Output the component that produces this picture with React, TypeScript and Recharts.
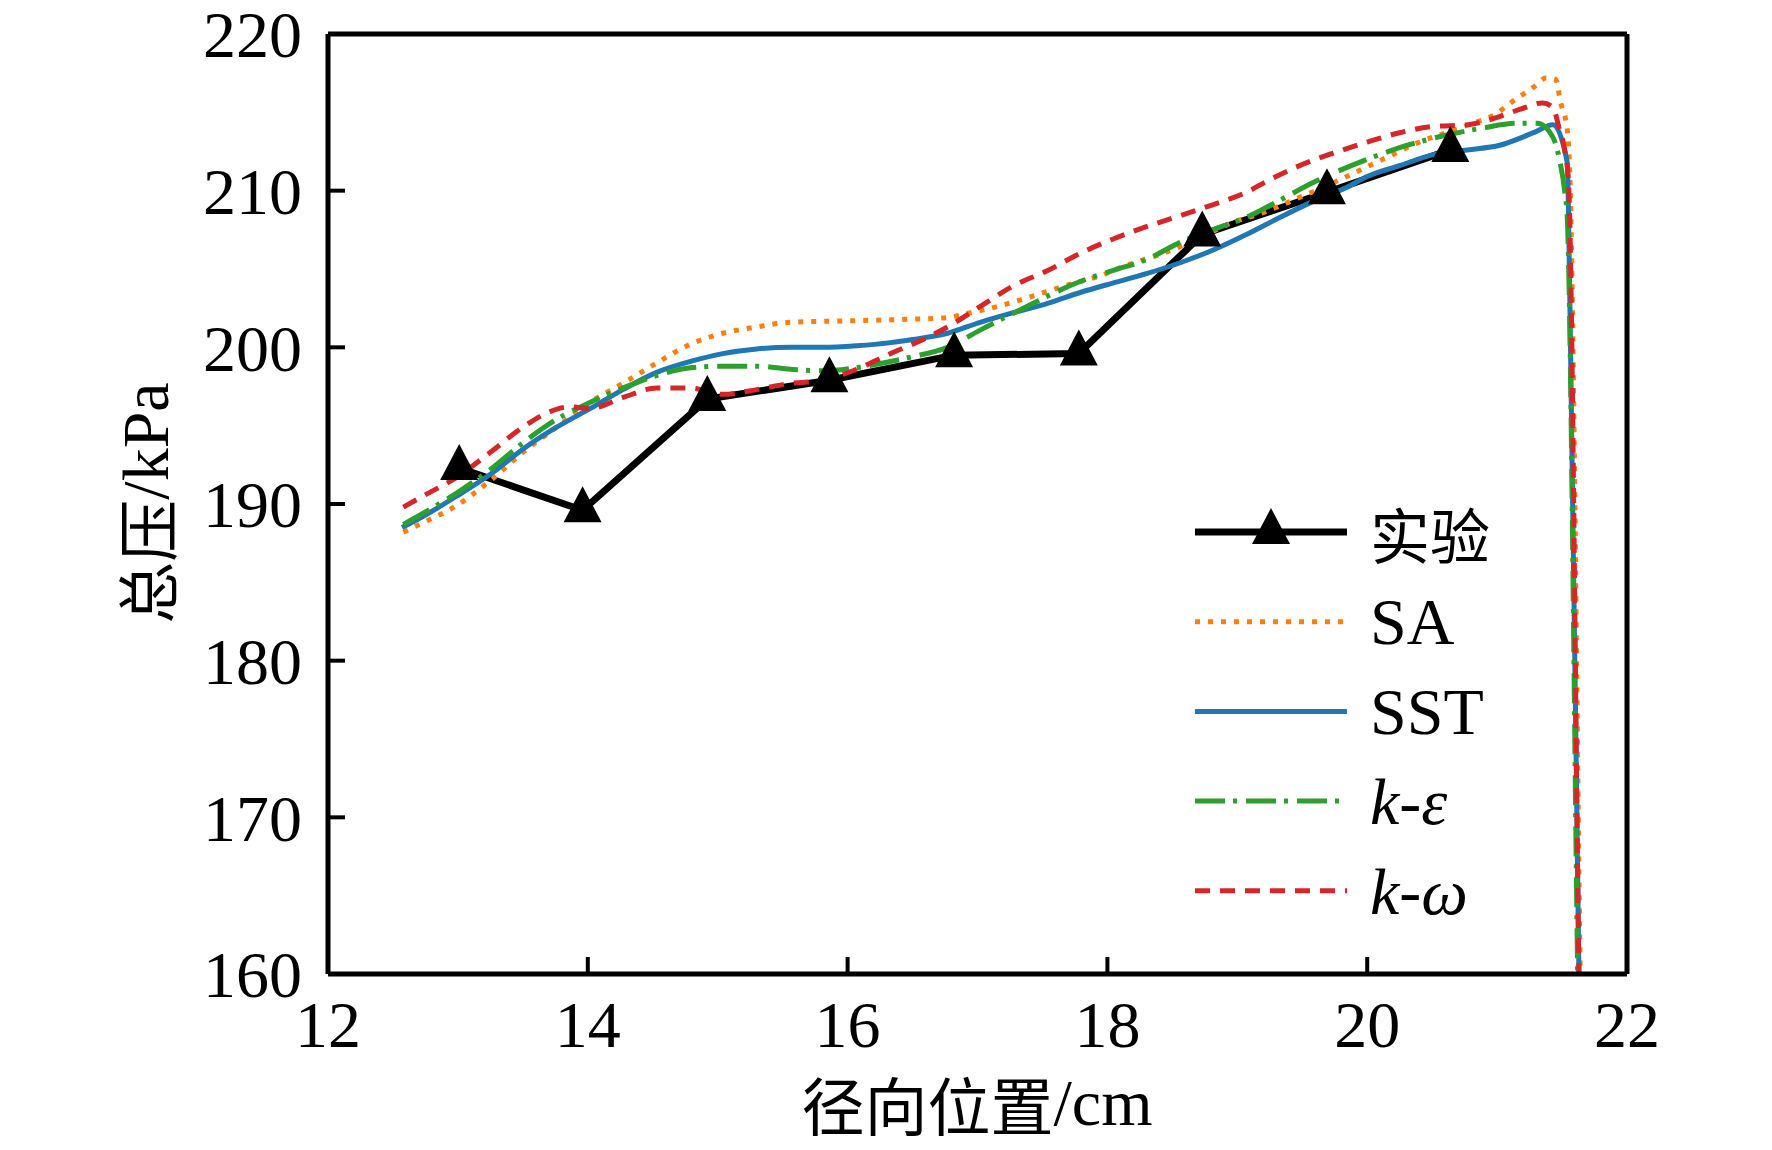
import { LineChart, Line, XAxis, YAxis, ReferenceLine } from "recharts"

const xTicks = [12, 14, 16, 18, 20, 22]
const yTicks = [160, 170, 180, 190, 200, 210, 220]

// 实验 (measured points)
const expPoints = [
  { x: 13.01, y: 192.3 },
  { x: 13.96, y: 189.6 },
  { x: 14.92, y: 196.7 },
  { x: 15.86, y: 197.9 },
  { x: 16.82, y: 199.5 },
  { x: 17.78, y: 199.6 },
  { x: 18.73, y: 207.2 },
  { x: 19.69, y: 209.9 },
  { x: 20.64, y: 212.6 },
]

const saPoints = [
  { x: 12.58, y: 188.2 }, { x: 12.73, y: 188.8 }, { x: 12.99, y: 189.9 },
  { x: 13.25, y: 191.5 }, { x: 13.5, y: 193.3 }, { x: 13.76, y: 194.9 },
  { x: 14.02, y: 196.5 }, { x: 14.27, y: 197.7 }, { x: 14.53, y: 199.0 },
  { x: 14.79, y: 200.2 }, { x: 15.04, y: 200.9 }, { x: 15.3, y: 201.3 },
  { x: 15.56, y: 201.6 }, { x: 16.05, y: 201.7 }, { x: 16.5, y: 201.8 },
  { x: 16.77, y: 201.9 }, { x: 16.94, y: 202.2 }, { x: 17.15, y: 202.6 },
  { x: 17.4, y: 203.2 }, { x: 17.66, y: 203.9 }, { x: 17.92, y: 204.5 },
  { x: 18.17, y: 205.3 }, { x: 18.43, y: 206.0 }, { x: 18.69, y: 206.9 },
  { x: 18.94, y: 207.9 }, { x: 19.2, y: 208.6 }, { x: 19.46, y: 209.5 },
  { x: 19.71, y: 210.4 }, { x: 20.12, y: 212.0 }, { x: 20.43, y: 213.2 },
  { x: 20.61, y: 213.7 }, { x: 20.81, y: 214.3 }, { x: 20.97, y: 214.8 },
  { x: 21.12, y: 215.7 }, { x: 21.28, y: 216.6 }, { x: 21.38, y: 217.2 },
  { x: 21.45, y: 217.1 }, { x: 21.49, y: 215.6 }, { x: 21.54, y: 213.9 },
  { x: 21.56, y: 211.0 }, { x: 21.64, y: 160.0 }, { x: 21.645, y: 157.0 },
]

const sstPoints = [
  { x: 12.57, y: 188.5 }, { x: 12.73, y: 189.2 }, { x: 12.99, y: 190.5 },
  { x: 13.25, y: 191.9 }, { x: 13.5, y: 193.5 }, { x: 13.76, y: 194.9 },
  { x: 14.02, y: 196.1 }, { x: 14.27, y: 197.3 }, { x: 14.53, y: 198.4 },
  { x: 14.79, y: 199.1 }, { x: 15.04, y: 199.6 }, { x: 15.3, y: 199.9 },
  { x: 15.56, y: 200.0 }, { x: 15.81, y: 200.0 }, { x: 16.07, y: 200.1 },
  { x: 16.33, y: 200.3 }, { x: 16.5, y: 200.5 }, { x: 16.77, y: 200.9 },
  { x: 17.02, y: 201.6 }, { x: 17.27, y: 202.2 }, { x: 17.54, y: 202.8 },
  { x: 17.79, y: 203.5 }, { x: 18.04, y: 204.1 }, { x: 18.3, y: 204.7 },
  { x: 18.56, y: 205.4 }, { x: 18.81, y: 206.2 }, { x: 19.07, y: 207.2 },
  { x: 19.33, y: 208.3 }, { x: 19.58, y: 209.3 }, { x: 19.84, y: 210.2 },
  { x: 20.0, y: 210.9 }, { x: 20.25, y: 211.6 }, { x: 20.51, y: 212.3 },
  { x: 20.77, y: 212.6 }, { x: 21.02, y: 212.9 }, { x: 21.28, y: 213.7 },
  { x: 21.43, y: 214.2 }, { x: 21.54, y: 211.8 }, { x: 21.56, y: 203.0 },
  { x: 21.63, y: 160.0 }, { x: 21.635, y: 157.0 },
]

const kePoints = [
  { x: 12.58, y: 188.7 }, { x: 12.73, y: 189.4 }, { x: 12.99, y: 190.7 },
  { x: 13.25, y: 192.2 }, { x: 13.5, y: 193.9 }, { x: 13.76, y: 195.4 },
  { x: 14.02, y: 196.5 }, { x: 14.27, y: 197.4 }, { x: 14.53, y: 198.2 },
  { x: 14.79, y: 198.7 }, { x: 15.04, y: 198.8 }, { x: 15.3, y: 198.8 },
  { x: 15.56, y: 198.6 }, { x: 15.81, y: 198.5 }, { x: 16.07, y: 198.7 },
  { x: 16.33, y: 199.1 }, { x: 16.5, y: 199.4 }, { x: 16.77, y: 200.0 },
  { x: 17.02, y: 201.1 }, { x: 17.33, y: 202.4 }, { x: 17.79, y: 204.2 },
  { x: 18.04, y: 204.9 }, { x: 18.3, y: 205.6 }, { x: 18.56, y: 206.7 },
  { x: 18.81, y: 207.5 }, { x: 19.07, y: 208.3 }, { x: 19.33, y: 209.4 },
  { x: 19.58, y: 210.5 }, { x: 20.0, y: 212.0 }, { x: 20.31, y: 212.9 },
  { x: 20.64, y: 213.6 }, { x: 20.89, y: 214.0 }, { x: 21.15, y: 214.3 },
  { x: 21.31, y: 214.3 }, { x: 21.43, y: 213.4 }, { x: 21.48, y: 212.0 },
  { x: 21.52, y: 210.0 }, { x: 21.54, y: 208.3 }, { x: 21.62, y: 160.0 },
  { x: 21.625, y: 157.0 },
]

const kwPoints = [
  { x: 12.58, y: 189.8 }, { x: 12.73, y: 190.5 }, { x: 12.99, y: 191.7 },
  { x: 13.25, y: 193.3 }, { x: 13.5, y: 194.9 }, { x: 13.71, y: 195.9 },
  { x: 13.86, y: 196.2 }, { x: 14.02, y: 196.1 }, { x: 14.27, y: 196.8 },
  { x: 14.53, y: 197.4 }, { x: 14.79, y: 197.4 }, { x: 14.92, y: 197.2 },
  { x: 15.04, y: 197.0 }, { x: 15.3, y: 197.3 }, { x: 15.56, y: 197.7 },
  { x: 15.81, y: 197.9 }, { x: 16.07, y: 198.6 }, { x: 16.33, y: 199.6 },
  { x: 16.5, y: 200.2 }, { x: 16.77, y: 201.3 }, { x: 17.02, y: 202.6 },
  { x: 17.27, y: 203.9 }, { x: 17.54, y: 204.9 }, { x: 17.79, y: 206.0 },
  { x: 18.04, y: 206.9 }, { x: 18.3, y: 207.7 }, { x: 18.56, y: 208.4 },
  { x: 18.81, y: 209.1 }, { x: 19.07, y: 209.9 }, { x: 19.25, y: 210.7 },
  { x: 19.48, y: 211.6 }, { x: 19.74, y: 212.4 }, { x: 20.0, y: 213.1 },
  { x: 20.25, y: 213.7 }, { x: 20.51, y: 214.1 }, { x: 20.77, y: 214.2 },
  { x: 20.97, y: 214.6 }, { x: 21.18, y: 215.2 }, { x: 21.35, y: 215.6 },
  { x: 21.43, y: 215.3 }, { x: 21.48, y: 213.9 }, { x: 21.52, y: 212.6 },
  { x: 21.55, y: 210.5 }, { x: 21.63, y: 160.0 }, { x: 21.635, y: 157.0 },
]

const serif = "'Liberation Serif', 'Times New Roman', serif"
const cjk = "'Noto Sans CJK SC', 'Noto Sans CJK JP', sans-serif"

const colors = {
  exp: "#000000",
  sa: "#ff7f0e",
  sst: "#1f77b4",
  ke: "#2ca02c",
  kw: "#d62728",
}

const dashes = {
  sa: "5 8",
  ke: "30 8 4 9",
  kw: "15 10",
}

const W = 1756
const H = 1134

function Triangle({ cx, cy }: { cx?: number; cy?: number }) {
  if (cx == null || cy == null) return null
  return (
    <polygon
      points={`${cx},${cy - 24} ${cx - 19},${cy + 12} ${cx + 19},${cy + 12}`}
      fill="#000"
    />
  )
}

function LegendBox() {
  const rows = [
    { key: "exp", color: colors.exp, width: 7, dash: undefined as string | undefined, marker: true },
    { key: "sa", color: colors.sa, width: 5, dash: dashes.sa, marker: false },
    { key: "sst", color: colors.sst, width: 5, dash: undefined, marker: false },
    { key: "ke", color: colors.ke, width: 5, dash: dashes.ke, marker: false },
    { key: "kw", color: colors.kw, width: 5, dash: dashes.kw, marker: false },
  ]
  const labels: Record<string, React.ReactNode> = {
    exp: <tspan fontFamily={cjk} fontSize={60}>实验</tspan>,
    sa: "SA",
    sst: "SST",
    ke: (
      <>
        <tspan fontStyle="italic">k</tspan>-<tspan fontStyle="italic">ε</tspan>
      </>
    ),
    kw: (
      <>
        <tspan fontStyle="italic">k</tspan>-<tspan fontStyle="italic">ω</tspan>
      </>
    ),
  }
  const x0 = 1187
  const x1 = 1339
  const top = 524
  const step = 89.7
  return (
    <svg
      width={W}
      height={H + 8}
      style={{ position: "absolute", left: 0, top: 0, pointerEvents: "none", overflow: "visible" }}
    >
      {rows.map((r, i) => {
        const y = top + i * step
        return (
          <g key={r.key}>
            <line x1={x0} x2={x1} y1={y} y2={y} stroke={r.color} strokeWidth={r.width} strokeDasharray={r.dash} />
            {r.marker && <Triangle cx={(x0 + x1) / 2} cy={y} />}
            <text x={1362} y={y} dominantBaseline="central" fontFamily={serif} fontSize={66} fill="#000">
              {labels[r.key]}
            </text>
          </g>
        )
      })}
      <text
        x={137}
        y={495}
        transform="rotate(-90 137 495)"
        textAnchor="middle"
        dominantBaseline="central"
        fontFamily={serif}
        fontSize={66}
        fill="#000"
      >
        <tspan fontFamily={cjk} fontSize={62}>总压</tspan>/kPa
      </text>
      <text
        x={969}
        y={1094}
        textAnchor="middle"
        dominantBaseline="central"
        fontFamily={serif}
        fontSize={66}
        fill="#000"
      >
        <tspan fontFamily={cjk} fontSize={63}>径向位置</tspan>/cm
      </text>
    </svg>
  )
}

export default function App() {
  const tickStyle = { fontSize: 66, fontFamily: serif, fill: "#000" }
  return (
    <div style={{ position: "relative", width: W, height: H, background: "#fff" }}>
      <LineChart
        width={W}
        height={H}
        margin={{ top: 26, right: 137, left: 0, bottom: 48 }}
        style={{ overflow: "visible" }}
      >
        <XAxis
          type="number"
          dataKey="x"
          domain={[12, 22]}
          ticks={xTicks}
          allowDataOverflow
          interval={0}
          height={120}
          tick={tickStyle}
          tickSize={-17}
          tickMargin={43}
          axisLine={{ stroke: "#000", strokeWidth: 5 }}
          tickLine={{ stroke: "#000", strokeWidth: 4 }}
        />
        <YAxis
          type="number"
          dataKey="y"
          domain={[160, 220]}
          ticks={yTicks}
          allowDataOverflow
          interval={0}
          width={320}
          tick={tickStyle}
          tickSize={-17}
          tickMargin={43}
          axisLine={{ stroke: "#000", strokeWidth: 5 }}
          tickLine={{ stroke: "#000", strokeWidth: 4 }}
        />
        <ReferenceLine y={220} stroke="#000" strokeWidth={5} />
        <ReferenceLine x={22} stroke="#000" strokeWidth={5} />
        <Line
          data={expPoints}
          dataKey="y"
          type="linear"
          stroke={colors.exp}
          strokeWidth={7}
          dot={(p: any) => <Triangle key={p.index} cx={p.cx} cy={p.cy} />}
          isAnimationActive={false}
        />
        <Line
          data={saPoints}
          dataKey="y"
          type="monotone"
          stroke={colors.sa}
          strokeWidth={5}
          strokeDasharray={dashes.sa}
          dot={false}
          isAnimationActive={false}
        />
        <Line
          data={sstPoints}
          dataKey="y"
          type="monotone"
          stroke={colors.sst}
          strokeWidth={5}
          dot={false}
          isAnimationActive={false}
        />
        <Line
          data={kePoints}
          dataKey="y"
          type="monotone"
          stroke={colors.ke}
          strokeWidth={5}
          strokeDasharray={dashes.ke}
          dot={false}
          isAnimationActive={false}
        />
        <Line
          data={kwPoints}
          dataKey="y"
          type="monotone"
          stroke={colors.kw}
          strokeWidth={5}
          strokeDasharray={dashes.kw}
          dot={false}
          isAnimationActive={false}
        />
      </LineChart>
      <LegendBox />
    </div>
  )
}
